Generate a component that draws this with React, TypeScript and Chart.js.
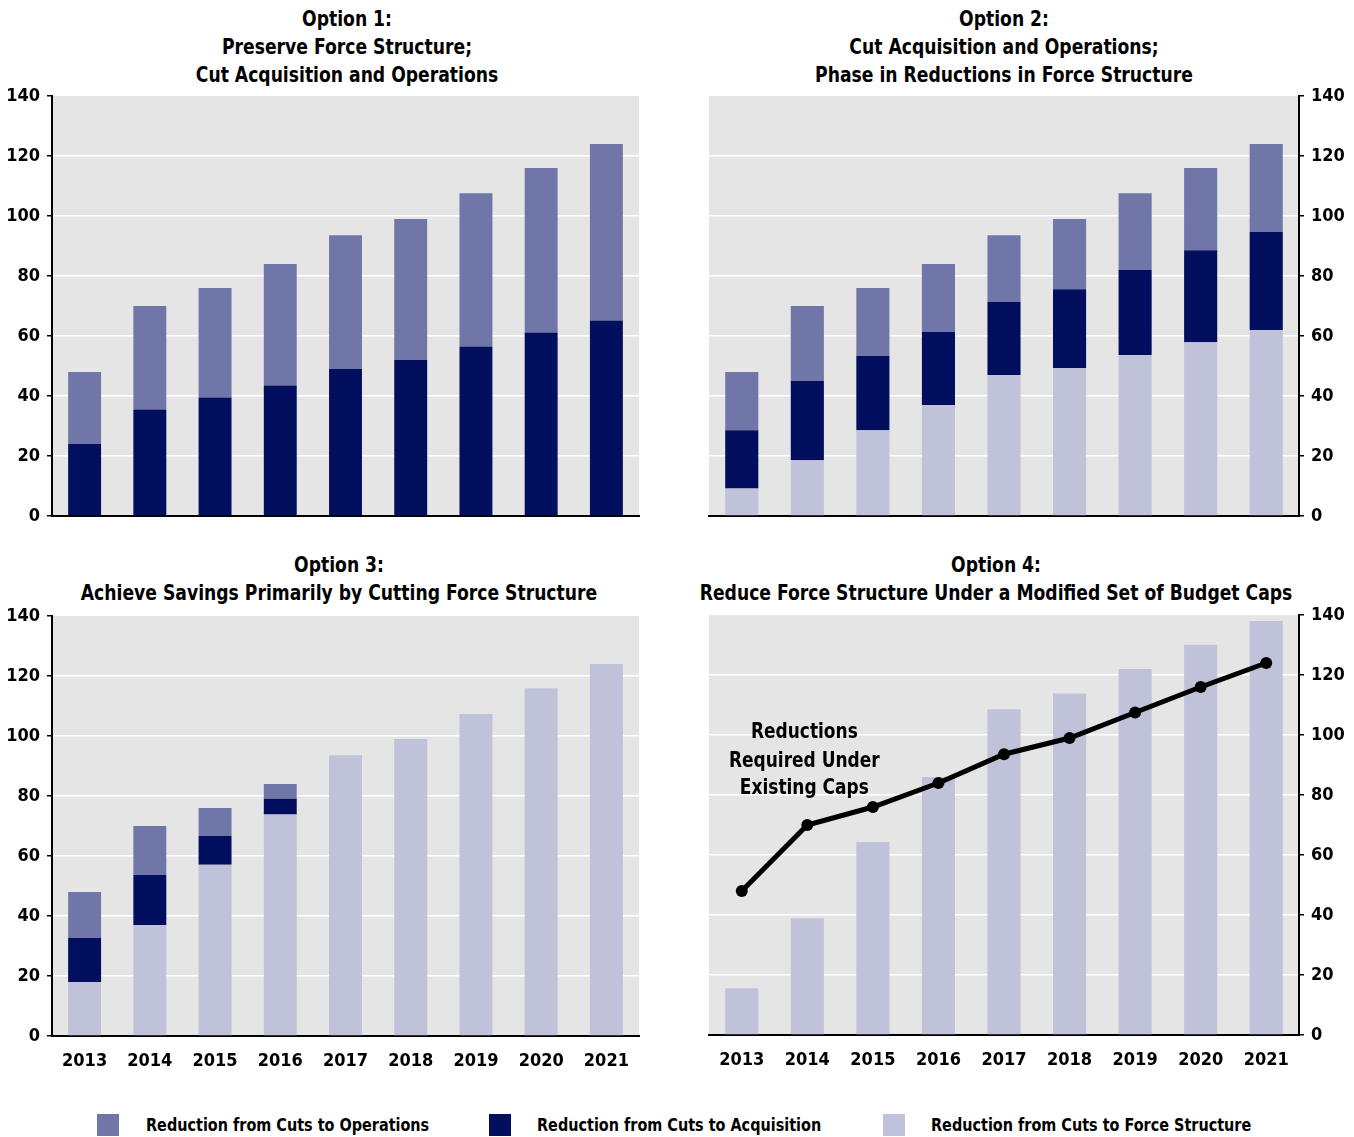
import React, { useEffect, useRef } from 'react';
import { Chart, registerables } from 'chart.js';

Chart.register(...registerables);

// ---------- data ----------
const years = ['2013', '2014', '2015', '2016', '2017', '2018', '2019', '2020', '2021'];
const yTicks = [0, 20, 40, 60, 80, 100, 120, 140];

// Option 1
const opt1Acquisition = [24, 35.5, 39.5, 43.5, 49, 52, 56.5, 61.2, 65.2];
const opt1Operations = [24, 34.5, 36.5, 40.5, 44.6, 47, 51.1, 54.8, 58.8];

// Option 2
const opt2Force = [9.2, 18.6, 28.6, 37, 47, 49.3, 53.7, 57.9, 62];
const opt2Acquisition = [19.4, 26.4, 24.7, 24.3, 24.3, 26.3, 28.3, 30.7, 32.7];
const opt2Operations = [19.4, 25, 22.7, 22.7, 22.3, 23.4, 25.6, 27.4, 29.3];

// Option 3
const opt3Force = [18, 37, 57.1, 73.8, 93.6, 99, 107.3, 115.9, 124];
const opt3Acquisition = [14.7, 16.7, 9.6, 5.3, 0, 0, 0, 0, 0];
const opt3Operations = [15.3, 16.3, 9.3, 4.9, 0, 0, 0, 0, 0];

// Option 4
const opt4Force = [15.6, 38.9, 64.3, 86, 108.6, 113.8, 122, 130.1, 138];
const existingCaps = [48, 70, 76, 84, 93.6, 99, 107.5, 116, 124];

const annotationLines = ['Reductions', 'Required Under', 'Existing Caps'];
const annotationValues = [100.7, 91, 82];

const legendLabels = [
  'Reduction from Cuts to Operations',
  'Reduction from Cuts to Acquisition',
  'Reduction from Cuts to Force Structure',
];

// ---------- styles ----------
const FONT = '"Liberation Sans Narrow", "Arial Narrow", "DejaVu Sans Condensed", sans-serif';
const COLOR_OPS = '#7077a8';
const COLOR_ACQ = '#020f5e';
const COLOR_FORCE = '#c0c2da';
const PLOT_BG = '#e5e5e5';
const TICK_SIZE = 18;

const bgPlugin = {
  id: 'plotBg',
  beforeDraw(chart: any) {
    const { ctx, chartArea: a } = chart;
    ctx.save();
    ctx.fillStyle = PLOT_BG;
    ctx.fillRect(a.left, a.top, a.right - a.left, a.bottom - a.top);
    ctx.restore();
  },
};

const annotationPlugin = {
  id: 'capsNote',
  afterDatasetsDraw(chart: any, _args: any, opts: any) {
    if (!opts || !opts.enabled) return;
    const { ctx, scales } = chart;
    const x = scales.x.getPixelForValue(1) - 3;
    annotationLines.forEach((t, i) => {
      ctx.save();
      ctx.fillStyle = '#000';
      ctx.font = 'bold 21px ' + FONT;
      ctx.textAlign = 'center';
      ctx.textBaseline = 'middle';
      ctx.translate(x, scales.y.getPixelForValue(annotationValues[i]));
      ctx.scale(0.9, 1);
      ctx.fillText(t, 0, 0);
      ctx.restore();
    });
  },
};

function bar(label: string, data: number[], color: string) {
  return {
    type: 'bar',
    label,
    data,
    backgroundColor: color,
    borderWidth: 0,
    barPercentage: 0.505,
    categoryPercentage: 1,
    order: 1,
  };
}

type PanelProps = {
  box: { left: number; top: number; width: number; height: number };
  datasets: any[];
  yPos: 'left' | 'right';
  yWidth: number;
  xHeight: number;
  showX: boolean;
  padding: { left: number; right: number; top: number; bottom: number };
  stacked: boolean;
  note?: boolean;
};

function Panel(p: PanelProps) {
  const ref = useRef<HTMLCanvasElement>(null);
  useEffect(() => {
    const chart = new Chart(ref.current as HTMLCanvasElement, {
      type: 'bar',
      data: { labels: years, datasets: p.datasets },
      options: {
        animation: false,
        responsive: false,
        maintainAspectRatio: false,
        layout: { padding: p.padding },
        plugins: {
          legend: { display: false },
          tooltip: { enabled: false },
          title: { display: false },
          capsNote: { enabled: !!p.note },
        } as any,
        scales: {
          x: {
            stacked: p.stacked,
            grid: { display: false, drawTicks: false },
            border: { display: true, color: '#000', width: 2 },
            ticks: {
              display: p.showX,
              padding: 15,
              color: '#000',
              font: { family: FONT, size: TICK_SIZE, weight: 'bold' },
            },
            afterFit: (s: any) => {
              s.height = p.xHeight;
            },
          },
          y: {
            position: p.yPos,
            stacked: p.stacked,
            min: 0,
            max: 140,
            afterBuildTicks: (s: any) => {
              s.ticks = yTicks.map((v) => ({ value: v }));
            },
            grid: {
              color: (c: any) => (c.tick && (c.tick.value === 0 || c.tick.value === 140) ? 'rgba(0,0,0,0)' : '#ffffff'),
              lineWidth: 1.5,
              tickColor: '#000',
              tickLength: 5,
              drawTicks: true,
            },
            border: { display: true, color: '#000', width: 2 },
            ticks: {
              padding: 7,
              color: '#000',
              font: { family: FONT, size: TICK_SIZE, weight: 'bold' },
            },
            afterFit: (s: any) => {
              s.width = p.yWidth;
            },
          },
        } as any,
      },
      plugins: [bgPlugin, annotationPlugin],
    } as any);
    return () => chart.destroy();
  }, []);
  return (
    <canvas
      ref={ref}
      width={p.box.width}
      height={p.box.height}
      style={{ position: 'absolute', left: p.box.left, top: p.box.top, width: p.box.width, height: p.box.height }}
    />
  );
}

function Title({ lines, cx, top }: { lines: string[]; cx: number; top: number }) {
  return (
    <div
      style={{
        position: 'absolute',
        left: cx - 340,
        width: 680,
        top,
        textAlign: 'center',
        fontFamily: FONT,
        fontWeight: 'bold',
        fontSize: 21,
        lineHeight: '28px',
        color: '#000',
        whiteSpace: 'nowrap',
        transform: 'scaleX(0.91)',
        transformOrigin: '50% 50%',
      }}
    >
      {lines.map((l, i) => (
        <div key={i}>{l}</div>
      ))}
    </div>
  );
}

const legendItems = [
  { color: COLOR_OPS, sq: 97, tx: 146 },
  { color: COLOR_ACQ, sq: 489, tx: 537 },
  { color: COLOR_FORCE, sq: 883, tx: 931 },
];

export default function App() {
  return (
    <div style={{ position: 'absolute', left: 0, top: 0, width: 1354, height: 1137, background: '#fff', overflow: 'hidden' }}>
      <Title lines={['Option 1:', 'Preserve Force Structure;', 'Cut Acquisition and Operations']} cx={347} top={5} />
      <Title lines={['Option 2:', 'Cut Acquisition and Operations;', 'Phase in Reductions in Force Structure']} cx={1004} top={5} />
      <Title lines={['Option 3:', 'Achieve Savings Primarily by Cutting Force Structure']} cx={339} top={551} />
      <Title lines={['Option 4:', 'Reduce Force Structure Under a Modified Set of Budget Caps']} cx={996} top={551} />

      <Panel
        box={{ left: 0, top: 76, width: 680, height: 460 }}
        datasets={[bar(legendLabels[1], opt1Acquisition, COLOR_ACQ), bar(legendLabels[0], opt1Operations, COLOR_OPS)]}
        yPos="left"
        yWidth={52}
        xHeight={0}
        showX={false}
        padding={{ left: 0, right: 41, top: 20, bottom: 20 }}
        stacked={true}
      />
      <Panel
        box={{ left: 680, top: 76, width: 674, height: 460 }}
        datasets={[
          bar(legendLabels[2], opt2Force, COLOR_FORCE),
          bar(legendLabels[1], opt2Acquisition, COLOR_ACQ),
          bar(legendLabels[0], opt2Operations, COLOR_OPS),
        ]}
        yPos="right"
        yWidth={55}
        xHeight={0}
        showX={false}
        padding={{ left: 29, right: 0, top: 20, bottom: 20 }}
        stacked={true}
      />
      <Panel
        box={{ left: 0, top: 596, width: 680, height: 484 }}
        datasets={[
          bar(legendLabels[2], opt3Force, COLOR_FORCE),
          bar(legendLabels[1], opt3Acquisition, COLOR_ACQ),
          bar(legendLabels[0], opt3Operations, COLOR_OPS),
        ]}
        yPos="left"
        yWidth={52}
        xHeight={44}
        showX={true}
        padding={{ left: 0, right: 41, top: 20, bottom: 0 }}
        stacked={true}
      />
      <Panel
        box={{ left: 680, top: 595, width: 674, height: 485 }}
        datasets={[
          {
            type: 'line',
            label: 'Reductions Required Under Existing Caps',
            data: existingCaps,
            borderColor: '#000',
            borderWidth: 5,
            pointRadius: 6,
            pointBackgroundColor: '#000',
            pointBorderColor: '#000',
            pointBorderWidth: 0,
            order: 0,
          },
          bar(legendLabels[2], opt4Force, COLOR_FORCE),
        ]}
        yPos="right"
        yWidth={55}
        xHeight={45}
        showX={true}
        padding={{ left: 29, right: 0, top: 20, bottom: 0 }}
        stacked={false}
        note={true}
      />

      {legendItems.map((it, i) => (
        <React.Fragment key={i}>
          <div style={{ position: 'absolute', left: it.sq, top: 1114, width: 22, height: 22, background: it.color }} />
          <div
            style={{
              position: 'absolute',
              left: it.tx,
              top: 1113,
              lineHeight: '24px',
              fontFamily: FONT,
              fontWeight: 'bold',
              fontSize: 18,
              color: '#000',
              whiteSpace: 'nowrap',
              transform: 'scaleX(0.89)',
              transformOrigin: '0 50%',
            }}
          >
            {legendLabels[i]}
          </div>
        </React.Fragment>
      ))}
    </div>
  );
}
